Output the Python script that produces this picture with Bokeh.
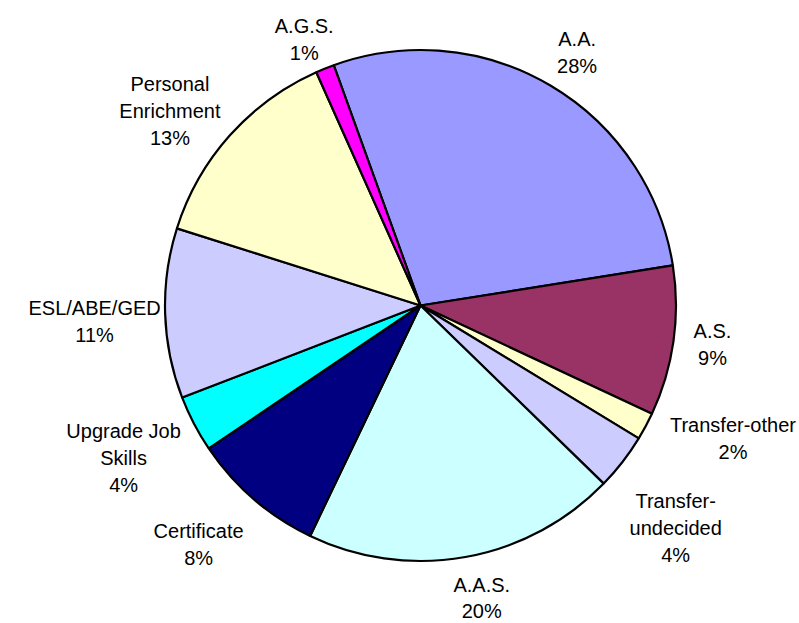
import math
from bokeh.plotting import figure
from bokeh.models import Range1d, ColumnDataSource
from bokeh.core.properties import value
from bokeh.embed import file_html
from bokeh.resources import INLINE

# ---- data ----
categories = ["A.A.", "A.S.", "Transfer-other", "Transfer-\nundecided", "A.A.S.",
              "Certificate", "Upgrade Job\nSkills", "ESL/ABE/GED",
              "Personal\nEnrichment", "A.G.S."]
shares = [28.0, 9.47, 1.74, 3.57, 19.83, 8.44, 3.58, 10.75, 13.43, 1.17]
colors = ["#9999FF", "#993366", "#FFFFCC", "#CCCCFF", "#CCFFFF",
          "#000080", "#00FFFF", "#CCCCFF", "#FFFFCC", "#FF00FF"]

# ---- layout / style ----
W, H = 799, 623
OFF = 0
PAGE_H = 623
CX_S, CY_S = 420, 305          # pie centre in page pixels
R = 255.5
START = -19.85                 # first slice angle, clockwise from 12 o'clock (deg)
label_angle_offset = [0.5, -1.8, -6.2, 2.4, -2.0, 3.0, 1.45, 0.15, -2.9, -1.15]
label_dist = [303.6, 293.7, 337.0, 333.9, 292.0, 320.7, 330.7, 326.0, 321.8, 296.3]
label_line_h = [27, 27, 27, 27, 26, 27, 27, 27, 27, 27]
CAP_HALF = 7
FONT = "Liberation Sans"
FONT_SIZE = "20px"

def to_data_y(ys):
    return PAGE_H - ys

cx, cy = CX_S, to_data_y(CY_S)
total = sum(shares)

starts, ends, mids = [], [], []
acc = START
for s in shares:
    span = 360.0 * s / total
    a0, a1 = acc, acc + span
    # convert clockwise-from-top to math angles (anticlockwise from +x)
    starts.append(math.radians(90 - a1))
    ends.append(math.radians(90 - a0))
    mids.append((a0 + a1) / 2)
    acc = a1

src = ColumnDataSource(dict(start=starts, end=ends, color=colors))

p = figure(width=W, height=H, x_range=Range1d(OFF, OFF + W),
           y_range=Range1d(PAGE_H - OFF - H, PAGE_H - OFF),
           output_backend="svg", toolbar_location=None, min_border=0)
p.axis.visible = False
p.grid.visible = False
p.outline_line_color = None
p.background_fill_color = "white"
p.border_fill_color = "white"

p.wedge(x=cx, y=cy, radius=R, start_angle="start", end_angle="end",
        direction="anticlock", fill_color="color", line_color="black",
        line_width=2.2, source=src)

tx, ty, tt = [], [], []
for name, s, m, da, d, lh in zip(categories, shares, mids, label_angle_offset,
                                 label_dist, label_line_h):
    pct = "%d%%" % round(100 * s / total)
    lines = name.split("\n") + [pct]
    ang = math.radians(m + da)
    bx = CX_S + d * math.sin(ang)
    by = CY_S - d * math.cos(ang)
    n = len(lines)
    first = by - (n - 1) * lh / 2 + CAP_HALF
    for k, ln in enumerate(lines):
        tx.append(bx)
        ty.append(to_data_y(first + k * lh))
        tt.append(ln)

p.text(x=tx, y=ty, text=tt, text_align="center", text_baseline="alphabetic",
       text_font=value(FONT), text_font_size=FONT_SIZE, text_color="black")

open("out.html", "w").write(file_html(p, INLINE))
